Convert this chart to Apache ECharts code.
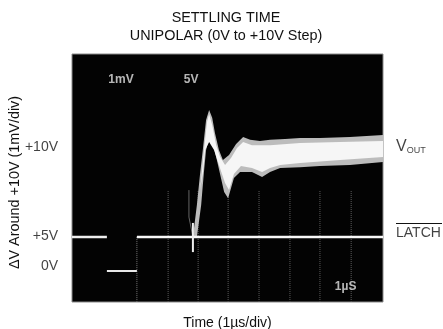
<!DOCTYPE html>
<html><head><meta charset="utf-8">
<style>html,body{margin:0;padding:0;background:#fff}#c{width:443px;height:329px}</style>
<script src="https://cdn.jsdelivr.net/npm/echarts@6/dist/echarts.min.js"></script>
</head><body><div id="c"></div>
<script>
// x in time divisions from the left edge of the screen, y in divisions from the bottom
const titleLines = ['SETTLING TIME', 'UNIPOLAR (0V to +10V Step)'];
const xName = 'Time (1µs/div)';
const yName = 'ΔV Around +10V (1mV/div)';
const yTickLabels = [['+10V', 5.0], ['+5V', 2.13], ['0V', 1.16]];
const scopeLabels = [['1mV', 1.60, 7.16], ['5V', 3.89, 7.16], ['1µS', 8.94, 0.48]];
const outerEnvelope = [[3.95,2.10],[4.08,3.13],[4.18,4.10],[4.28,4.97],[4.38,5.87],[4.48,6.19],[4.58,5.94],[4.67,5.45],[4.80,4.90],[4.93,4.58],[5.13,4.74],[5.36,5.10],[5.59,5.32],[5.82,5.23],[6.14,5.19],[6.47,5.23],[6.96,5.26],[7.45,5.29],[8.10,5.29],[9.08,5.32],[10.16,5.39],[10.16,4.52],[9.08,4.42],[8.10,4.39],[7.45,4.35],[6.80,4.32],[6.47,4.19],[6.21,4.03],[5.88,4.19],[5.49,4.19],[5.29,4.00],[5.10,3.35],[4.97,3.55],[4.77,4.42],[4.64,4.97],[4.48,5.29],[4.38,4.90],[4.31,4.19],[4.22,3.13],[4.08,2.10]];
const innerEnvelope = [[4.22,3.94],[4.31,4.90],[4.41,5.81],[4.48,6.06],[4.58,5.71],[4.71,5.06],[4.84,4.68],[5.00,4.42],[5.20,4.65],[5.39,4.97],[5.59,5.16],[5.88,5.06],[6.47,5.06],[7.45,5.13],[8.76,5.16],[10.16,5.19],[10.16,4.68],[8.76,4.58],[7.45,4.48],[6.80,4.42],[6.47,4.32],[6.21,4.19],[5.88,4.32],[5.52,4.39],[5.29,4.13],[5.13,3.61],[5.00,3.84],[4.80,4.42],[4.64,4.90],[4.48,5.16],[4.35,4.90],[4.28,4.19],[4.18,3.61]];
const latchBefore = [[0,2.10],[1.14,2.10]];
const latchLow = [[1.14,1.0],[2.12,1.0]];
const latchAfter = [[2.12,2.10],[10.16,2.10]];
const latchEdge = [[2.12,2.10],[2.12,0]];
const spike = [[3.95,1.61],[3.95,2.55]];
const faintTrace = [[3.82,3.61],[3.82,2.74],[3.95,2.10]];
const gridTimes = [3.14,4.12,5.10,6.11,7.12,8.10,9.12];
const gridTop = 3.6;

function polygonSeries(points, color) {
  return { type:'custom', coordinateSystem:'cartesian2d', silent:true, clip:true, z:3,
    data:[0],
    encode:{x:[],y:[]},
    renderItem:(p, api)=>({ type:'polygon',
      shape:{points:points.map(q=>api.coord(q))},
      style:{fill:color} }) };
}
const line = (data,color,width,z,type)=>({type:'line',data,symbol:'none',silent:true,z,
  lineStyle:{color,width,type:type||'solid'}});

const chart = echarts.init(document.getElementById('c'),null,{renderer:'canvas'});
const font = 'Liberation Sans, Arial, sans-serif';
const ink = '#111';
const fs = 14;
chart.setOption({
  animation:false,
  backgroundColor:'#fff',
  textStyle:{fontFamily:font},
  title:{text:titleLines.join('\n'),left:221,top:4,textAlign:'center',
    textStyle:{fontFamily:font,fontSize:14.4,fontWeight:'normal',color:ink,lineHeight:18}},
  grid:{left:72,top:54,width:311,height:248,outerBoundsMode:'none',backgroundColor:'#030303',borderColor:'#8a8a8a',borderWidth:1,show:true},
  xAxis:{type:'value',min:0,max:10.16,axisLine:{show:false},axisTick:{show:false},axisLabel:{show:false},splitLine:{show:false},
    name:xName,nameLocation:'middle',nameGap:14,nameTextStyle:{fontSize:fs,color:ink,fontFamily:font}},
  yAxis:{type:'value',min:0,max:8,axisLine:{show:false},axisTick:{show:false},axisLabel:{show:false},splitLine:{show:false},
    name:yName,nameLocation:'middle',nameGap:50,nameRotate:90,nameTextStyle:{fontSize:14.4,color:ink,fontFamily:font,padding:[0,9,0,0]}},
  series:[
    ...gridTimes.map(t=>line([[t,0],[t,gridTop]],'#5c5c5c',1,2,'dotted')),
    line(faintTrace,'#666666',1,3),
    polygonSeries(outerEnvelope,'#bcbcbc'),
    polygonSeries(innerEnvelope,'#f6f6f6'),
    line(latchBefore,'#eeeeee',2.5,4),
    line(latchAfter,'#f8f8f8',2.5,4),
    line(latchLow,'#e8e8e8',2,4),
    line(latchEdge,'#777777',1,3,'dotted'),
    line(spike,'#eeeeee',2,5),
    {type:'scatter',symbolSize:0,silent:true,z:6,
      data:yTickLabels.map(d=>({value:[0,d[1]],name:d[0]})),
      label:{show:true,position:'left',distance:14,formatter:p=>p.name,fontSize:fs,color:ink,fontFamily:font}},
    {type:'scatter',symbolSize:0,silent:true,z:6,
      data:scopeLabels.map(d=>({value:[d[1],d[2]],name:d[0]})),
      label:{show:true,position:'inside',formatter:p=>p.name,fontSize:12,fontWeight:'bold',color:'#e4e4e4',fontFamily:font}},
    {type:'scatter',symbolSize:0,silent:true,z:6,
      data:[{value:[10.16,5.0],name:'v'}],
      label:{show:true,position:'right',distance:13,formatter:'{a|V}{b|OUT}',color:ink,
        rich:{a:{fontSize:16,color:ink,fontFamily:font},b:{fontSize:9,color:ink,fontFamily:font,padding:[7,0,0,0]}}}},
    {type:'scatter',symbolSize:0,silent:true,z:6,
      data:[{value:[10.16,2.22],name:'LATCH'}],
      label:{show:true,position:'right',distance:13,formatter:p=>p.name,fontSize:fs,color:ink,fontFamily:font}}
  ],
  graphic:[{type:'line',shape:{x1:396,y1:223.5,x2:442,y2:223.5},style:{stroke:ink,lineWidth:1}}]
});
</script></body></html>
